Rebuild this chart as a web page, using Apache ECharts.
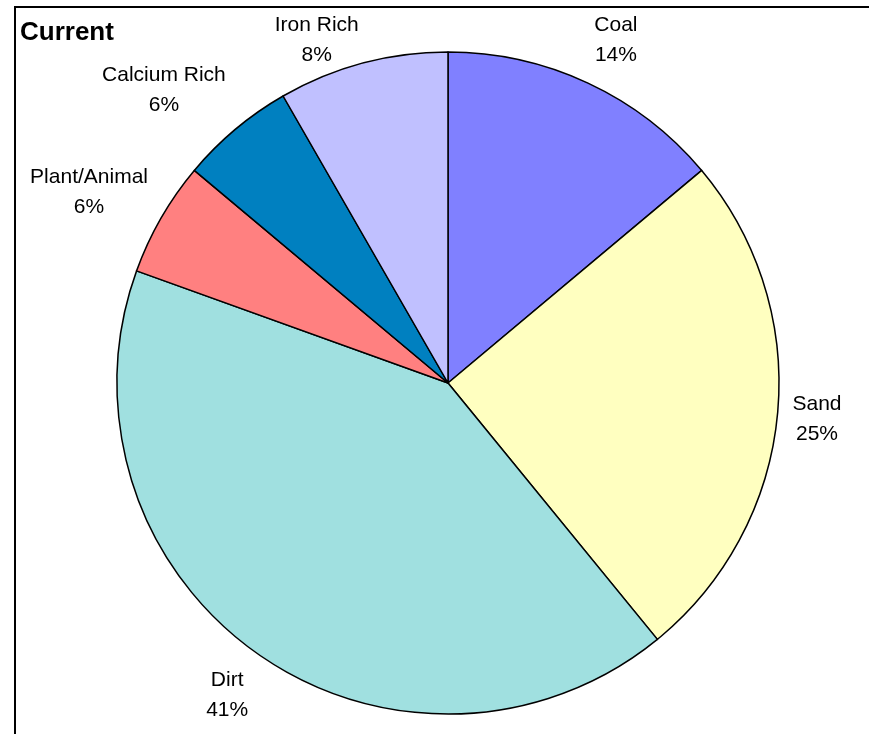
<!DOCTYPE html>
<html><head><meta charset="utf-8">
<script src="https://cdn.jsdelivr.net/npm/echarts@6/dist/echarts.min.js"></script>
<style>html,body{margin:0;padding:0;background:#fff}#c{width:869px;height:734px}</style>
</head><body><div id="c"></div>
<script>
const categories = ['Coal', 'Sand', 'Dirt', 'Plant/Animal', 'Calcium Rich', 'Iron Rich'];
const values = [13.9, 25.2, 41.4, 5.6, 5.6, 8.3];
const colors = ['#8080FF', '#FFFFC0', '#A0E0E0', '#FF8080', '#0080C0', '#C0C0FF'];
const chartTitle = 'Current';

const CX = 448, CY = 383, R = 331, GAP = 15, KX = 4, YOFF = 36, MIN_CY = 40;
const total = values.reduce((a, b) => a + b, 0);
const midAngles = [];
let acc = 0;
values.forEach(v => { midAngles.push((acc + v / 2) / total * 2 * Math.PI); acc += v; });
function clamp(v) { return Math.max(-1, Math.min(1, v)); }

const chart = echarts.init(document.getElementById('c'), null, { renderer: 'canvas' });
chart.setOption({
  backgroundColor: '#ffffff',
  animation: false,
  title: {
    text: chartTitle, left: 20, top: 20, padding: 0,
    textStyle: { fontFamily: 'Liberation Sans, Arial, sans-serif', fontWeight: 'bold', fontSize: 26, color: '#000' }
  },
  graphic: [{
    type: 'rect', silent: true, z: 100,
    shape: { x: 15, y: 7, width: 1000, height: 1000 },
    style: { fill: 'none', stroke: '#000', lineWidth: 2 }
  }],
  series: [{
    type: 'pie',
    center: [CX, CY],
    radius: R,
    startAngle: 90,
    clockwise: true,
    avoidLabelOverlap: false,
    data: categories.map((n, i) => ({ name: n, value: values[i], itemStyle: { color: colors[i] } })),
    itemStyle: { borderColor: '#000', borderWidth: 1.5 },
    label: {
      show: true, position: 'outside',
      fontFamily: 'Liberation Sans, Arial, sans-serif', fontSize: 21, lineHeight: 30, color: '#000',
      formatter: p => p.name + '\n' + Math.round(values[p.dataIndex] / total * 100) + '%'
    },
    labelLine: { show: false },
    emphasis: { disabled: true },
    labelLayout: function (params) {
      const a = midAngles[params.dataIndex];
      const dx = Math.sin(a), dy = -Math.cos(a);
      const w = params.labelRect.width;
      const px = CX + (R + GAP) * dx, py = CY + (R + GAP) * dy;
      return {
        x: px + w / 2 * clamp(dx * KX),
        y: Math.max(MIN_CY, py + YOFF * dy),
        align: 'center', verticalAlign: 'middle'
      };
    }
  }]
});
</script></body></html>
